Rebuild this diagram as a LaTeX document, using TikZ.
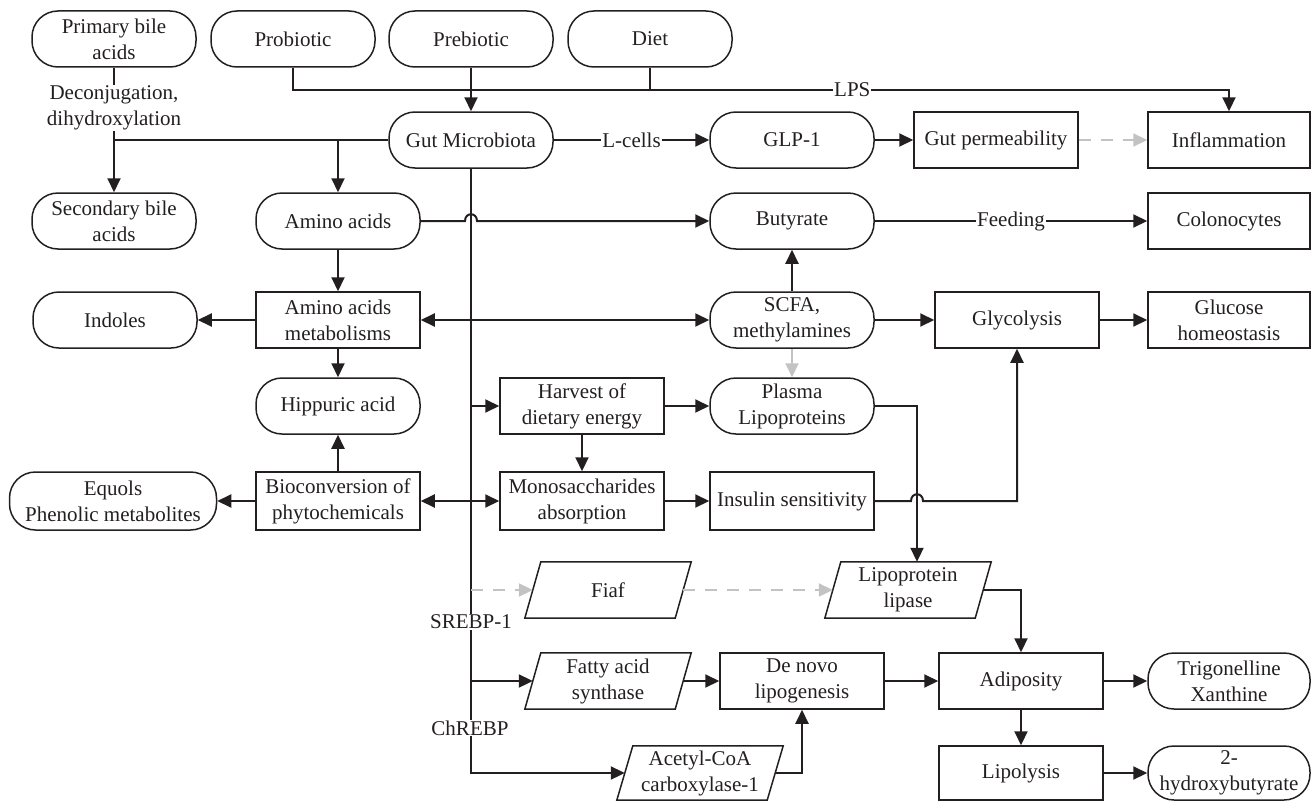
\documentclass[tikz,border=0pt]{standalone}
\usepackage{fontspec}
\setmainfont{Liberation Serif}
\usetikzlibrary{arrows.meta}
\definecolor{ink}{RGB}{35,31,32}
\definecolor{lgray}{RGB}{195,195,195}
\begin{document}
\begin{tikzpicture}[x=1pt,y=-1pt,
  font=\fontsize{21}{26}\selectfont,
  base/.style={draw=ink, line width=1.5pt, text=ink, minimum width=164pt, minimum height=56pt, align=center, inner sep=1pt},
  pill/.style={base, rounded corners=26pt},
  box/.style={base},
  para/.style={align=center, text=ink, minimum width=150pt, minimum height=56pt, inner sep=1pt},
  arr/.style={draw=ink, line width=2pt, -{Triangle[length=14pt,width=13pt]}},
  dbl/.style={draw=ink, line width=2pt, {Triangle[length=14pt,width=13pt]}-{Triangle[length=14pt,width=13pt]}},
  ln/.style={draw=ink, line width=2pt},
  garr/.style={draw=lgray, line width=2pt, -{Triangle[length=14pt,width=13pt]}},
  gdash/.style={garr, dash pattern=on 12pt off 10pt},
  lab/.style={fill=white, text=ink, inner sep=1pt, align=center},
  paraline/.style={draw=ink, line width=1.5pt, line join=miter},
]
\useasboundingbox (0,0) rectangle (1311,800);

% nodes
\node[pill] (prim) at (114,39) {Primary bile\\acids};
\node[pill] (probio) at (293,39) {Probiotic};
\node[pill] (prebio) at (471,39) {Prebiotic};
\node[pill] (diet) at (650,39) {Diet};
\node[pill] (gut) at (471,140) {Gut Microbiota};
\node[pill] (glp) at (792,140) {GLP-1};
\node[box] (perm) at (996,140) {Gut permeability};
\node[box, minimum width=162pt] (infl) at (1229,140) {Inflammation};
\node[pill] (sec) at (114,221) {Secondary bile\\acids};
\node[pill] (amino) at (338,221) {Amino acids};
\node[pill] (buty) at (792,221) {Butyrate};
\node[box, minimum width=162pt] (colon) at (1229,221) {Colonocytes};
\node[box] (aam) at (338,320) {Amino acids\\metabolisms};
\node[pill] (indol) at (115,320) {Indoles};
\node[pill] (scfa) at (792,320) {SCFA,\\methylamines};
\node[box] (glyc) at (1017,320) {Glycolysis};
\node[box, minimum width=162pt] (gluc) at (1229,320) {Glucose\\homeostasis};
\node[pill] (hipp) at (338,406) {Hippuric acid};
\node[box] (harv) at (582,406) {Harvest of\\dietary energy};
\node[pill] (plasma) at (792,406) {Plasma\\Lipoproteins};
\node[pill, minimum width=207pt, minimum height=58pt] (equol) at (113,501) {Equols\\Phenolic metabolites};
\node[box, minimum height=58pt] (bio) at (338,501) {Bioconversion of\\phytochemicals};
\node[box, minimum height=58pt] (mono) at (582,501) {Monosaccharides\\absorption};
\node[box, minimum height=58pt] (ins) at (792,501) {Insulin sensitivity};
\node[para] (fiaf) at (608,590) {Fiaf};
\node[para] (lpl) at (908,590) {Lipoprotein\\lipase};
\node[para] (fas) at (608,681) {Fatty acid\\synthase};
\node[box] (dnl) at (802,681) {De novo\\lipogenesis};
\node[box] (adip) at (1021,681) {Adiposity};
\node[pill, minimum width=162pt] (trig) at (1229,681) {Trigonelline\\Xanthine};
\node[para, minimum height=54pt] (acc) at (700,773) {Acetyl-CoA\\carboxylase-1};
\node[box, minimum height=54pt] (lipo) at (1021,773) {Lipolysis};
\node[pill, minimum width=162pt, minimum height=54pt] (hb) at (1229,773) {2-\\hydroxybutyrate};

% parallelogram outlines
\foreach \n in {fiaf,lpl,fas,acc}
  \draw[paraline] ([xshift=8pt]\n.north west) -- ([xshift=8pt]\n.north east) -- ([xshift=-8pt]\n.south east) -- ([xshift=-8pt]\n.south west) -- cycle;

% top inputs
\coordinate (j) at (471,90);
\draw[ln] (probio.south) |- (j);
\draw[ln] (diet.south) |- (j);
\draw[arr] (prebio.south) -- (gut.north);
\draw[arr] (j) -- node[lab, pos=0.503] (lps) {LPS} (infl.north |- j) -- (infl.north);

% bile acids
\draw[ln] (prim.south) -- (prim.south |- gut.west);
\node[lab] (dec) at (114,108) {Deconjugation,\\dihydroxylation};
\draw[arr] (gut.west) -| (sec.north);
\draw[arr] (amino.north |- gut.west) -- (amino.north);

% gut row
\draw[arr] (gut.east) -- node[lab] (lcells) {L-cells} (glp.west);
\draw[arr] (glp.east) -- (perm.west);
\draw[gdash] (perm.east) -- (infl.west);

% butyrate row
\draw[arr] (amino.east) -- (465,221) .. controls (465,212) and (477,212) .. (477,221) -- (buty.west);
\draw[arr] (buty.east) -- node[lab] (feed) {Feeding} (colon.west);

% amino acid metabolism
\draw[arr] (amino.south) -- (aam.north);
\draw[arr] (aam.west) -- (indol.east);
\draw[arr] (aam.south) -- (hipp.north);
\draw[arr] (bio.north) -- (hipp.south);
\draw[arr] (bio.west) -- (equol.east);

% main vertical from gut microbiota
\draw[arr] (gut.south) |- (acc.west);
\draw[dbl] (aam.east) -- (scfa.west);
\draw[dbl] (bio.east) -- (mono.west);
\draw[arr] (gut.south |- harv.west) -- (harv.west);
\draw[gdash] (gut.south |- fiaf.west) -- (fiaf.west);
\draw[arr] (gut.south |- fas.west) -- (fas.west);
\node[lab] (srebp) at (471,622) {SREBP-1};
\node[lab] (chrebp) at (470,728) {ChREBP};

% SCFA
\draw[arr] (scfa.north) -- (buty.south);
\draw[garr] (scfa.south) -- (plasma.north);
\draw[arr] (scfa.east) -- (glyc.west);
\draw[arr] (glyc.east) -- (gluc.west);

% harvest / mono / insulin
\draw[arr] (harv.east) -- (plasma.west);
\draw[arr] (harv.south) -- (mono.north);
\draw[arr] (mono.east) -- (ins.west);
\draw[arr] (plasma.east) -| ([xshift=9pt]lpl.north);
\draw[arr] (ins.east) -- (911,501) .. controls (911,492) and (923,492) .. (923,501) -| (glyc.south);

% lipid part
\draw[gdash] (fiaf.east) -- (lpl.west);
\draw[arr] (lpl.east) -| (adip.north);
\draw[arr] (fas.east) -- (dnl.west);
\draw[arr] (acc.east) -| (dnl.south);
\draw[arr] (dnl.east) -- (adip.west);
\draw[arr] (adip.east) -- (trig.west);
\draw[arr] (adip.south) -- (lipo.north);
\draw[arr] (lipo.east) -- (hb.west);
\end{tikzpicture}
\end{document}
